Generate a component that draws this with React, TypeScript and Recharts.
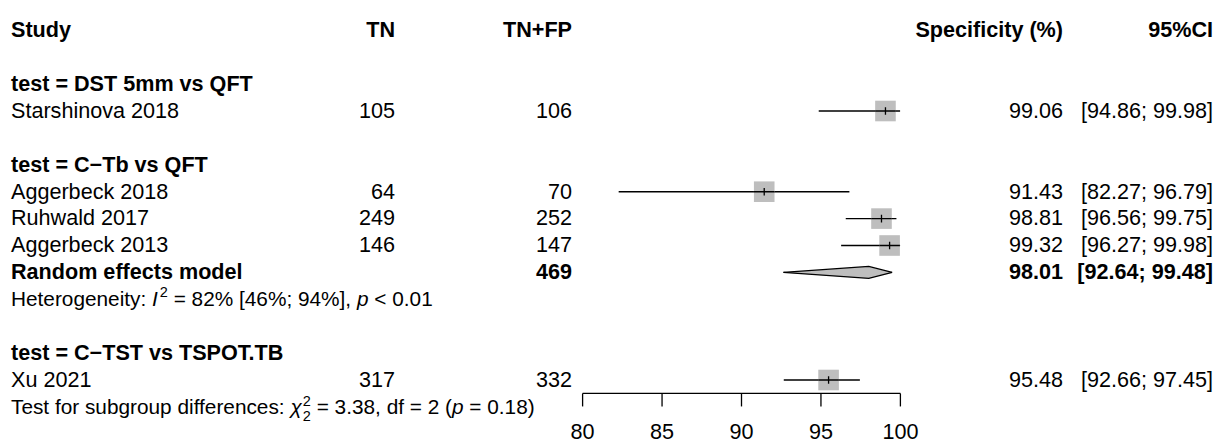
import { ComposedChart, Scatter, Area, XAxis, YAxis, ErrorBar } from "recharts";

// ---- data ----
const groups = ["test = DST 5mm vs QFT", "test = C\u2212Tb vs QFT", "test = C\u2212TST vs TSPOT.TB"];
const studies = ["Starshinova 2018", "Aggerbeck 2018", "Ruhwald 2017", "Aggerbeck 2013", "Xu 2021"];
const studyGroup = [0, 1, 1, 1, 2];
const tn = [105, 64, 249, 146, 317];
const tnfp = [106, 70, 252, 147, 332];
const spec = [99.06, 91.43, 98.81, 99.32, 95.48];
const lower = [94.86, 82.27, 96.56, 96.27, 92.66];
const upper = [99.98, 96.79, 99.75, 99.98, 97.45];

const pooledGroup = 1;
const pooledTotal = 469;
const pooledEst = 98.01;
const pooledLower = 92.64;
const pooledUpper = 99.48;

const xTicks = [80, 85, 90, 95, 100];
const headers = ["Study", "TN", "TN+FP", "Specificity (%)", "95%CI"];

// ---- layout ----
const W = 1218;
const H = 443;
const FONT = '"Liberation Sans", Arial, Helvetica, sans-serif';
const FS = 21.6;
const FS_NOTE = 20.8;
const PLOT_LEFT = 582.6;
const PLOT_RIGHT = 900.4;
const ROW_TOP = 30.3;
const ROW_H = 26.9;
const AXIS_ROW = 13.5;
const COL_STUDY = 11;
const COL_TN = 395;
const COL_TOTAL = 572;
const COL_EST = 1063;
const COL_CI = 1213;
const GREY = "#bebebe";
const HALF = 10.3; // half side of the study squares

// assign rows: header 0, then per group a blank line, label, studies, pooled lines
const studyRows: number[] = [];
const labelRows: number[] = [];
let pooledRow = -1;
let hetRow = -1;
let k = 1;
groups.forEach((_, gi) => {
  k += 1;
  labelRows.push(k);
  k += 1;
  studies.forEach((_, i) => {
    if (studyGroup[i] === gi) {
      studyRows[i] = k;
      k += 1;
    }
  });
  if (gi === pooledGroup) {
    pooledRow = k;
    hetRow = k + 1;
    k += 2;
  }
});
const testRow = k;

const baseY = (row: number) => ROW_TOP + row * ROW_H + 6.8;
const fmt = (v: number) => v.toFixed(2);

const points = studies.map((s, i) => ({
  name: s,
  x: spec[i],
  y: studyRows[i],
  err: [spec[i] - lower[i], upper[i] - spec[i]],
}));

const DH = 6 / ROW_H; // diamond half height in row units
const diamond = [
  { x: pooledLower, band: [pooledRow, pooledRow] },
  { x: pooledEst, band: [pooledRow - DH, pooledRow + DH] },
  { x: pooledUpper, band: [pooledRow, pooledRow] },
];

// grey square with the CI line running over it and a small tick at the estimate
const Box = (props: any) => {
  const { cx, cy } = props;
  return (
    <g>
      <rect x={cx - HALF} y={cy - HALF} width={HALF * 2} height={HALF * 2} fill={GREY} />
      <line x1={cx - HALF} x2={cx + HALF} y1={cy} y2={cy} stroke="#000" strokeWidth={1.4} />
      <line x1={cx} x2={cx} y1={cy - 3.8} y2={cy + 3.8} stroke="#000" strokeWidth={1.3} />
    </g>
  );
};

function Cell({ x, row, anchor = "end", bold = false, children }: any) {
  return (
    <text x={x} y={baseY(row)} textAnchor={anchor} fontWeight={bold ? "bold" : "normal"}>
      {children}
    </text>
  );
}

export default function App() {
  const headerX = [COL_STUDY, COL_TN, COL_TOTAL, COL_EST, COL_CI];
  return (
    <div style={{ position: "relative", width: W, height: H, background: "#fff" }}>
      <style>{"body{margin:0}"}</style>
      <ComposedChart
        width={W}
        height={H}
        data={diamond}
        margin={{ top: ROW_TOP, right: W - PLOT_RIGHT, left: PLOT_LEFT, bottom: 0 }}
      >
        <XAxis
          dataKey="x"
          type="number"
          domain={[80, 100]}
          ticks={xTicks}
          allowDataOverflow
          height={H - (ROW_TOP + AXIS_ROW * ROW_H)}
          tickSize={13}
          tickMargin={17}
          axisLine={{ stroke: "#000", strokeWidth: 1.3 }}
          tickLine={{ stroke: "#000", strokeWidth: 1.3 }}
          tick={{ fill: "#000", fontSize: FS, fontFamily: FONT }}
        />
        <YAxis dataKey="y" type="number" domain={[0, AXIS_ROW]} reversed hide width={0} allowDataOverflow />
        <Area
          dataKey="band"
          type="linear"
          stroke="#000"
          strokeWidth={1.4}
          fill={GREY}
          fillOpacity={1}
          dot={false}
          activeDot={false}
          isAnimationActive={false}
        />
        <Scatter data={points} shape={<Box />} isAnimationActive={false}>
          <ErrorBar dataKey="err" direction="x" width={0} stroke="#000" strokeWidth={1.4} />
        </Scatter>
      </ComposedChart>

      <svg
        width={W}
        height={H}
        style={{ position: "absolute", left: 0, top: 0, pointerEvents: "none" }}
        fontFamily={FONT}
        fontSize={FS}
        fill="#000"
      >
        {headers.map((h, i) => (
          <Cell key={h} x={headerX[i]} row={0} anchor={i === 0 ? "start" : "end"} bold>
            {h}
          </Cell>
        ))}
        {groups.map((g, gi) => (
          <Cell key={g} x={COL_STUDY} row={labelRows[gi]} anchor="start" bold>
            {g}
          </Cell>
        ))}
        {studies.map((s, i) => (
          <g key={s}>
            <Cell x={COL_STUDY} row={studyRows[i]} anchor="start">{s}</Cell>
            <Cell x={COL_TN} row={studyRows[i]}>{tn[i]}</Cell>
            <Cell x={COL_TOTAL} row={studyRows[i]}>{tnfp[i]}</Cell>
            <Cell x={COL_EST} row={studyRows[i]}>{fmt(spec[i])}</Cell>
            <Cell x={COL_CI} row={studyRows[i]}>{`[${fmt(lower[i])}; ${fmt(upper[i])}]`}</Cell>
          </g>
        ))}
        <Cell x={COL_STUDY} row={pooledRow} anchor="start" bold>Random effects model</Cell>
        <Cell x={COL_TOTAL} row={pooledRow} bold>{pooledTotal}</Cell>
        <Cell x={COL_EST} row={pooledRow} bold>{fmt(pooledEst)}</Cell>
        <Cell x={COL_CI} row={pooledRow} bold>{`[${fmt(pooledLower)}; ${fmt(pooledUpper)}]`}</Cell>
        <text x={COL_STUDY} y={baseY(hetRow)} fontSize={FS_NOTE}>
          {"Heterogeneity: "}
          <tspan fontStyle="italic">I</tspan>
          <tspan dx={2} dy={-9} fontSize={14.5}>2</tspan>
          <tspan dy={9}>{" = 82% [46%; 94%], "}</tspan>
          <tspan fontStyle="italic">p</tspan>
          <tspan>{" < 0.01"}</tspan>
        </text>
        <text x={COL_STUDY} y={baseY(testRow)} fontSize={FS_NOTE}>
          {"Test for subgroup differences: "}
          <tspan fontStyle="italic">{"\u03c7"}</tspan>
          <tspan dx={1} dy={-8} fontSize={14.5}>2</tspan>
          <tspan dx={-8} dy={15} fontSize={14.5}>2</tspan>
          <tspan dy={-7}>{" = 3.38, df = 2 ("}</tspan>
          <tspan fontStyle="italic">p</tspan>
          <tspan>{" = 0.18)"}</tspan>
        </text>
      </svg>
    </div>
  );
}
